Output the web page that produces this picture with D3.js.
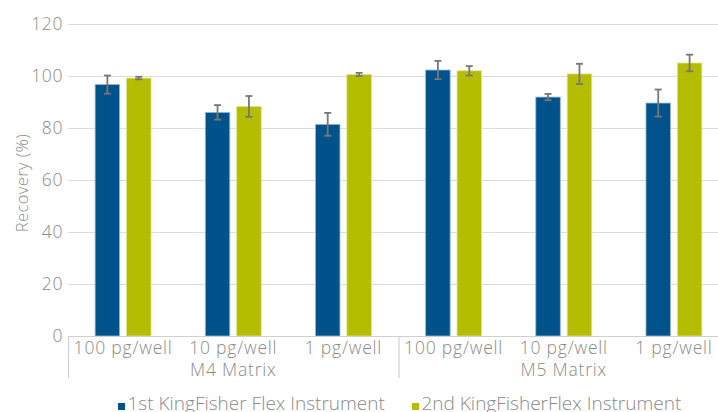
<!DOCTYPE html>
<html><head><meta charset="utf-8">
<script src="https://cdn.jsdelivr.net/npm/d3@7"></script>
<style>body{margin:0;background:#fff;} svg{display:block;font-family:"Open Sans","Liberation Sans",Arial,sans-serif;font-weight:300;}</style>
</head><body>
<svg id="c" width="718" height="412"></svg>
<script>
const categories = ["100 pg/well","10 pg/well","1 pg/well","100 pg/well","10 pg/well","1 pg/well"];
const groups = ["M4 Matrix","M5 Matrix"];
const seriesNames = ["1st KingFisher Flex Instrument","2nd KingFisherFlex Instrument"];
const series1 = [96.7, 86.0, 81.4, 102.3, 91.9, 89.6];
const series1Err = [3.5, 2.8, 4.4, 3.5, 1.2, 5.2];
const series2 = [99.2, 88.3, 100.6, 102.0, 100.8, 105.0];
const series2Err = [0.5, 4.0, 0.6, 1.8, 3.9, 3.2];
const yTicks = [0,20,40,60,80,100,120];
const colors = ["#00538a","#b5bd00"];

(function(){
const svg = d3.select("#c");
const pL = 68, pR = 729, pT = 24, pB = 336;
const x = d3.scaleBand().domain(d3.range(categories.length)).range([pL,pR]).paddingInner(0).paddingOuter(0);
const y = d3.scaleLinear().domain([0,120]).range([pB,pT]);
const textCol = "#8a8a8a";
const fs = 17.5;

svg.append("g").selectAll("line").data(yTicks.filter(d=>d>0)).join("line")
  .attr("x1",pL).attr("x2",718).attr("y1",d=>y(d)+0.5).attr("y2",d=>y(d)+0.5)
  .attr("stroke","#dcdcdc").attr("stroke-width",1.2);

svg.append("g").selectAll("text").data(yTicks).join("text")
  .attr("x",63).attr("y",d=>y(d)).attr("dy","0.36em").attr("text-anchor","end")
  .attr("font-size",fs).attr("letter-spacing",0.6).attr("fill",textCol).text(d=>d);

svg.append("text").attr("transform",`translate(28,${(pT+pB)/2+3}) rotate(-90)`)
  .attr("text-anchor","middle").attr("font-size",16.5).attr("letter-spacing",0.4).attr("fill",textCol).text("Recovery (%)");

const bw = 24.5, off = 15.7;
const data = [series1, series2];
const errs = [series1Err, series2Err];
data.forEach((vals,s)=>{
  svg.append("g").selectAll("rect").data(vals).join("rect")
    .attr("x",(d,i)=>x(i)+x.bandwidth()/2+(s===0?-off:off)-bw/2)
    .attr("width",bw)
    .attr("y",d=>y(d)).attr("height",d=>pB-y(d))
    .attr("fill",colors[s]).attr("stroke",s===0?"#9bb7d0":"#e0e48a").attr("stroke-width",0.8);
});
data.forEach((vals,s)=>{
  const g = svg.append("g").attr("stroke","#777").attr("stroke-width",1.8);
  vals.forEach((v,i)=>{
    const cx = x(i)+x.bandwidth()/2+(s===0?-off:off);
    const e = errs[s][i];
    g.append("line").attr("x1",cx).attr("x2",cx).attr("y1",y(v+e)).attr("y2",y(v-e));
    g.append("line").attr("x1",cx-3.5).attr("x2",cx+3.5).attr("y1",y(v+e)).attr("y2",y(v+e));
    g.append("line").attr("x1",cx-3.5).attr("x2",cx+3.5).attr("y1",y(v-e)).attr("y2",y(v-e));
  });
});

svg.append("line").attr("x1",pL).attr("x2",718).attr("y1",pB+0.5).attr("y2",pB+0.5).attr("stroke","#d0d0d0").attr("stroke-width",1.2);
[0,3].forEach(i=>{
  svg.append("line").attr("x1",x(i)+0.5).attr("x2",x(i)+0.5).attr("y1",pB).attr("y2",378)
    .attr("stroke","#d0d0d0").attr("stroke-width",1.2);
});
svg.append("g").selectAll("text").data(categories).join("text")
  .attr("x",(d,i)=>x(i)+x.bandwidth()/2).attr("y",354).attr("text-anchor","middle")
  .attr("font-size",fs).attr("letter-spacing",0.8).attr("fill",textCol).text(d=>d);
svg.append("g").selectAll("text").data(groups).join("text")
  .attr("x",(d,i)=>(x(i*3)+x(i*3+2)+x.bandwidth())/2).attr("y",376).attr("text-anchor","middle")
  .attr("font-size",fs).attr("letter-spacing",0.8).attr("fill",textCol).text(d=>d);

const legX = [118, 412];
seriesNames.forEach((n,s)=>{
  svg.append("rect").attr("x",legX[s]).attr("y",403).attr("width",7).attr("height",7).attr("fill",colors[s]);
  svg.append("text").attr("x",legX[s]+9.5).attr("y",409.5).attr("font-size",19).attr("fill",textCol).text(n);
});
})();
</script>
</body></html>
